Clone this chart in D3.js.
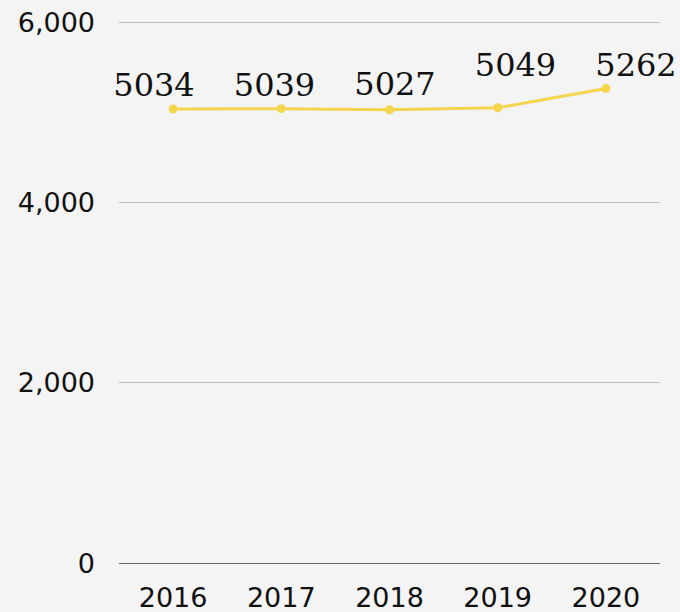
<!DOCTYPE html>
<html>
<head>
<meta charset="utf-8">
<script src="https://cdn.jsdelivr.net/npm/d3@7"></script>
<style>
  html, body { margin: 0; padding: 0; background: #f4f4f4; }
  svg { display: block; }
</style>
</head>
<body>
<svg id="chart" width="680" height="612"></svg>
<script>
const years = ["2016", "2017", "2018", "2019", "2020"]
const values = [5034, 5039, 5027, 5049, 5262]
const yTicks = [0, 2000, 4000, 6000]

const width = 680
const height = 612
const margin = {top: 22, right: 20, bottom: 49, left: 119}

const svg = d3.select("#chart")

const x = d3.scaleBand()
  .domain(years)
  .range([margin.left, width - margin.right])

// les étiquettes sont étalées un peu plus large que les points
const xLabel = d3.scalePoint()
  .domain(years)
  .range([154, 636])

const y = d3.scaleLinear()
  .domain([0, 6000])
  .range([height - margin.bottom, margin.top])

const cx = d => x(d) + x.bandwidth() / 2

// Grille
svg.append("g")
  .selectAll("line")
  .data(yTicks)
  .enter()
  .append("line")
  .attr("x1", margin.left)
  .attr("x2", width - margin.right)
  .attr("y1", d => y(d))
  .attr("y2", d => y(d))
  .style("stroke", d => d === 0 ? "#666" : "#bdbdbd")
  .style("stroke-width", 1)
  .attr("shape-rendering", "crispEdges")

// Axe Y
svg.append("g")
  .selectAll("text")
  .data(yTicks)
  .enter()
  .append("text")
  .attr("x", 95)
  .attr("y", d => y(d))
  .attr("dy", "0.36em")
  .style("text-anchor", "end")
  .style("font-family", "DejaVu Sans")
  .style("font-size", "27px")
  .style("fill", "#111")
  .text(d => d3.format(",")(d))

// Axe X
svg.append("g")
  .selectAll("text")
  .data(years)
  .enter()
  .append("text")
  .attr("x", d => cx(d))
  .attr("y", y(0) + 44)
  .style("text-anchor", "middle")
  .style("font-family", "DejaVu Sans")
  .style("font-size", "27px")
  .style("fill", "#111")
  .text(d => d)

// Ligne
const line = d3.line()
  .x((d, i) => cx(years[i]))
  .y(d => y(d))

svg.append("path")
  .datum(values)
  .style("fill", "none")
  .style("stroke", "#f5d54e")
  .style("stroke-width", 3)
  .attr("d", line)

svg.append("g")
  .selectAll("circle")
  .data(values)
  .enter()
  .append("circle")
  .attr("cx", (d, i) => cx(years[i]))
  .attr("cy", d => y(d))
  .attr("r", 4.5)
  .style("fill", "#f5d54e")

// Etiquettes
svg.append("g")
  .selectAll("text")
  .data(values)
  .enter()
  .append("text")
  .attr("x", (d, i) => xLabel(years[i]))
  .attr("y", (d, i) => {
    const next = i < values.length - 1 ? values[i + 1] : d
    return Math.min(y(d), y(next)) - 13
  })
  .style("text-anchor", "middle")
  .style("font-family", "DejaVu Serif")
  .style("font-size", "32px")
  .style("fill", "#111")
  .text(d => d)
</script>
</body>
</html>
